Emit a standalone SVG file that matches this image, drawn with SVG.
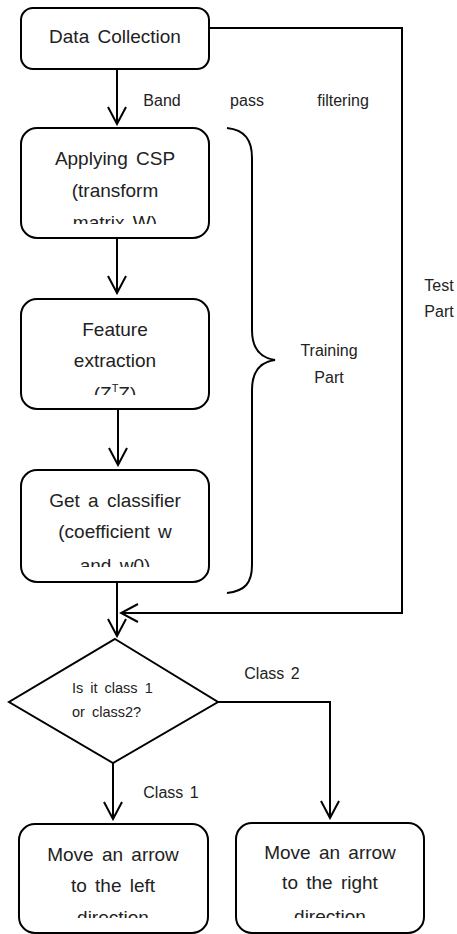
<svg xmlns="http://www.w3.org/2000/svg" width="457" height="934" viewBox="0 0 457 934">
<style>
.box{fill:#fff;stroke:#000;stroke-width:2}
.ln{fill:none;stroke:#000;stroke-width:2}
.t{font-family:"Liberation Sans",Arial,sans-serif;fill:#222;text-anchor:middle}
.big{font-size:19px;word-spacing:3px}
.mid{font-size:16px;word-spacing:2px}
.sm{font-size:14.5px;word-spacing:3px}
</style>
<defs>
<marker id="ah" viewBox="-20 -12 22 24" refX="0" refY="0" markerWidth="22" markerHeight="24" markerUnits="userSpaceOnUse" orient="auto">
<path d="M-17,-9 L0,0 L-17,9" fill="none" stroke="#000" stroke-width="2"/>
</marker>
<clipPath id="c1"><rect x="21" y="128" width="188" height="96"/></clipPath>
<clipPath id="c2"><rect x="21" y="299" width="188" height="96"/></clipPath>
<clipPath id="c3"><rect x="21" y="470" width="188" height="97"/></clipPath>
<clipPath id="c4"><rect x="19" y="824" width="189" height="94"/></clipPath>
<clipPath id="c5"><rect x="236" y="823" width="188" height="95"/></clipPath>
</defs>
<g id="connectors">
<line class="ln" x1="117" y1="69" x2="117" y2="124" marker-end="url(#ah)"/>
<line class="ln" x1="117" y1="238" x2="117" y2="293" marker-end="url(#ah)"/>
<line class="ln" x1="118" y1="409" x2="118" y2="465" marker-end="url(#ah)"/>
<line class="ln" x1="117" y1="582" x2="117" y2="636" marker-end="url(#ah)"/>
<polyline class="ln" points="210,28 402,28 402,613 121,613" marker-end="url(#ah)"/>
<polyline class="ln" points="218,702 330,702 330,818" marker-end="url(#ah)"/>
<line class="ln" x1="113" y1="763" x2="113" y2="819" marker-end="url(#ah)"/>
<path class="ln" d="M227,128 C245,130 252,140 252,158 L252,330 C252,348 260,358 275,360 C260,362 252,372 252,390 L252,565 C252,583 245,591 227,593"/>
</g>
<g id="labels">
<text class="t mid" x="162" y="106">Band</text>
<text class="t mid" x="247" y="106">pass</text>
<text class="t mid" x="343" y="106">filtering</text>
<text class="t mid" x="329" y="356">Training</text>
<text class="t mid" x="329" y="383">Part</text>
<text class="t mid" x="439" y="291">Test</text>
<text class="t mid" x="439" y="317">Part</text>
<text class="t mid" x="272" y="679">Class 2</text>
<text class="t mid" x="171" y="798">Class 1</text>
</g>
<g id="data-collection">
<rect class="box" x="21" y="8" width="188" height="61" rx="12"/>
<text class="t big" x="115" y="43">Data Collection</text>
</g>
<g id="applying-csp">
<rect class="box" x="21" y="128" width="188" height="110" rx="16"/>
<g clip-path="url(#c1)">
<text class="t big" x="115" y="165">Applying CSP</text>
<text class="t big" x="115" y="197">(transform</text>
<text class="t big" x="115" y="229">matrix W)</text>
</g>
</g>
<g id="feature-extraction">
<rect class="box" x="21" y="299" width="188" height="110" rx="16"/>
<g clip-path="url(#c2)">
<text class="t big" x="115" y="336">Feature</text>
<text class="t big" x="115" y="367">extraction</text>
<text class="t big" x="115" y="400">(Z<tspan font-size="11" dy="-8">T</tspan><tspan dy="8">Z)</tspan></text>
</g>
</g>
<g id="classifier">
<rect class="box" x="21" y="470" width="188" height="112" rx="16"/>
<g clip-path="url(#c3)">
<text class="t big" x="115" y="507">Get a classifier</text>
<text class="t big" x="115" y="538">(coefficient w</text>
<text class="t big" x="115" y="572">and w0)</text>
</g>
</g>
<g id="decision">
<polygon class="box" points="115,639 218,702 113,763 9,702"/>
<text class="t sm" x="72" y="693" style="text-anchor:start">Is it class 1</text>
<text class="t sm" x="72" y="717" style="text-anchor:start">or class2?</text>
</g>
<g id="move-left">
<rect class="box" x="19" y="824" width="189" height="109" rx="16"/>
<g clip-path="url(#c4)">
<text class="t big" x="113" y="861">Move an arrow</text>
<text class="t big" x="113" y="892">to the left</text>
<text class="t big" x="113" y="924">direction</text>
</g>
</g>
<g id="move-right">
<rect class="box" x="236" y="823" width="188" height="110" rx="16"/>
<g clip-path="url(#c5)">
<text class="t big" x="330" y="859">Move an arrow</text>
<text class="t big" x="330" y="889">to the right</text>
<text class="t big" x="330" y="923">direction</text>
</g>
</g>
</svg>
